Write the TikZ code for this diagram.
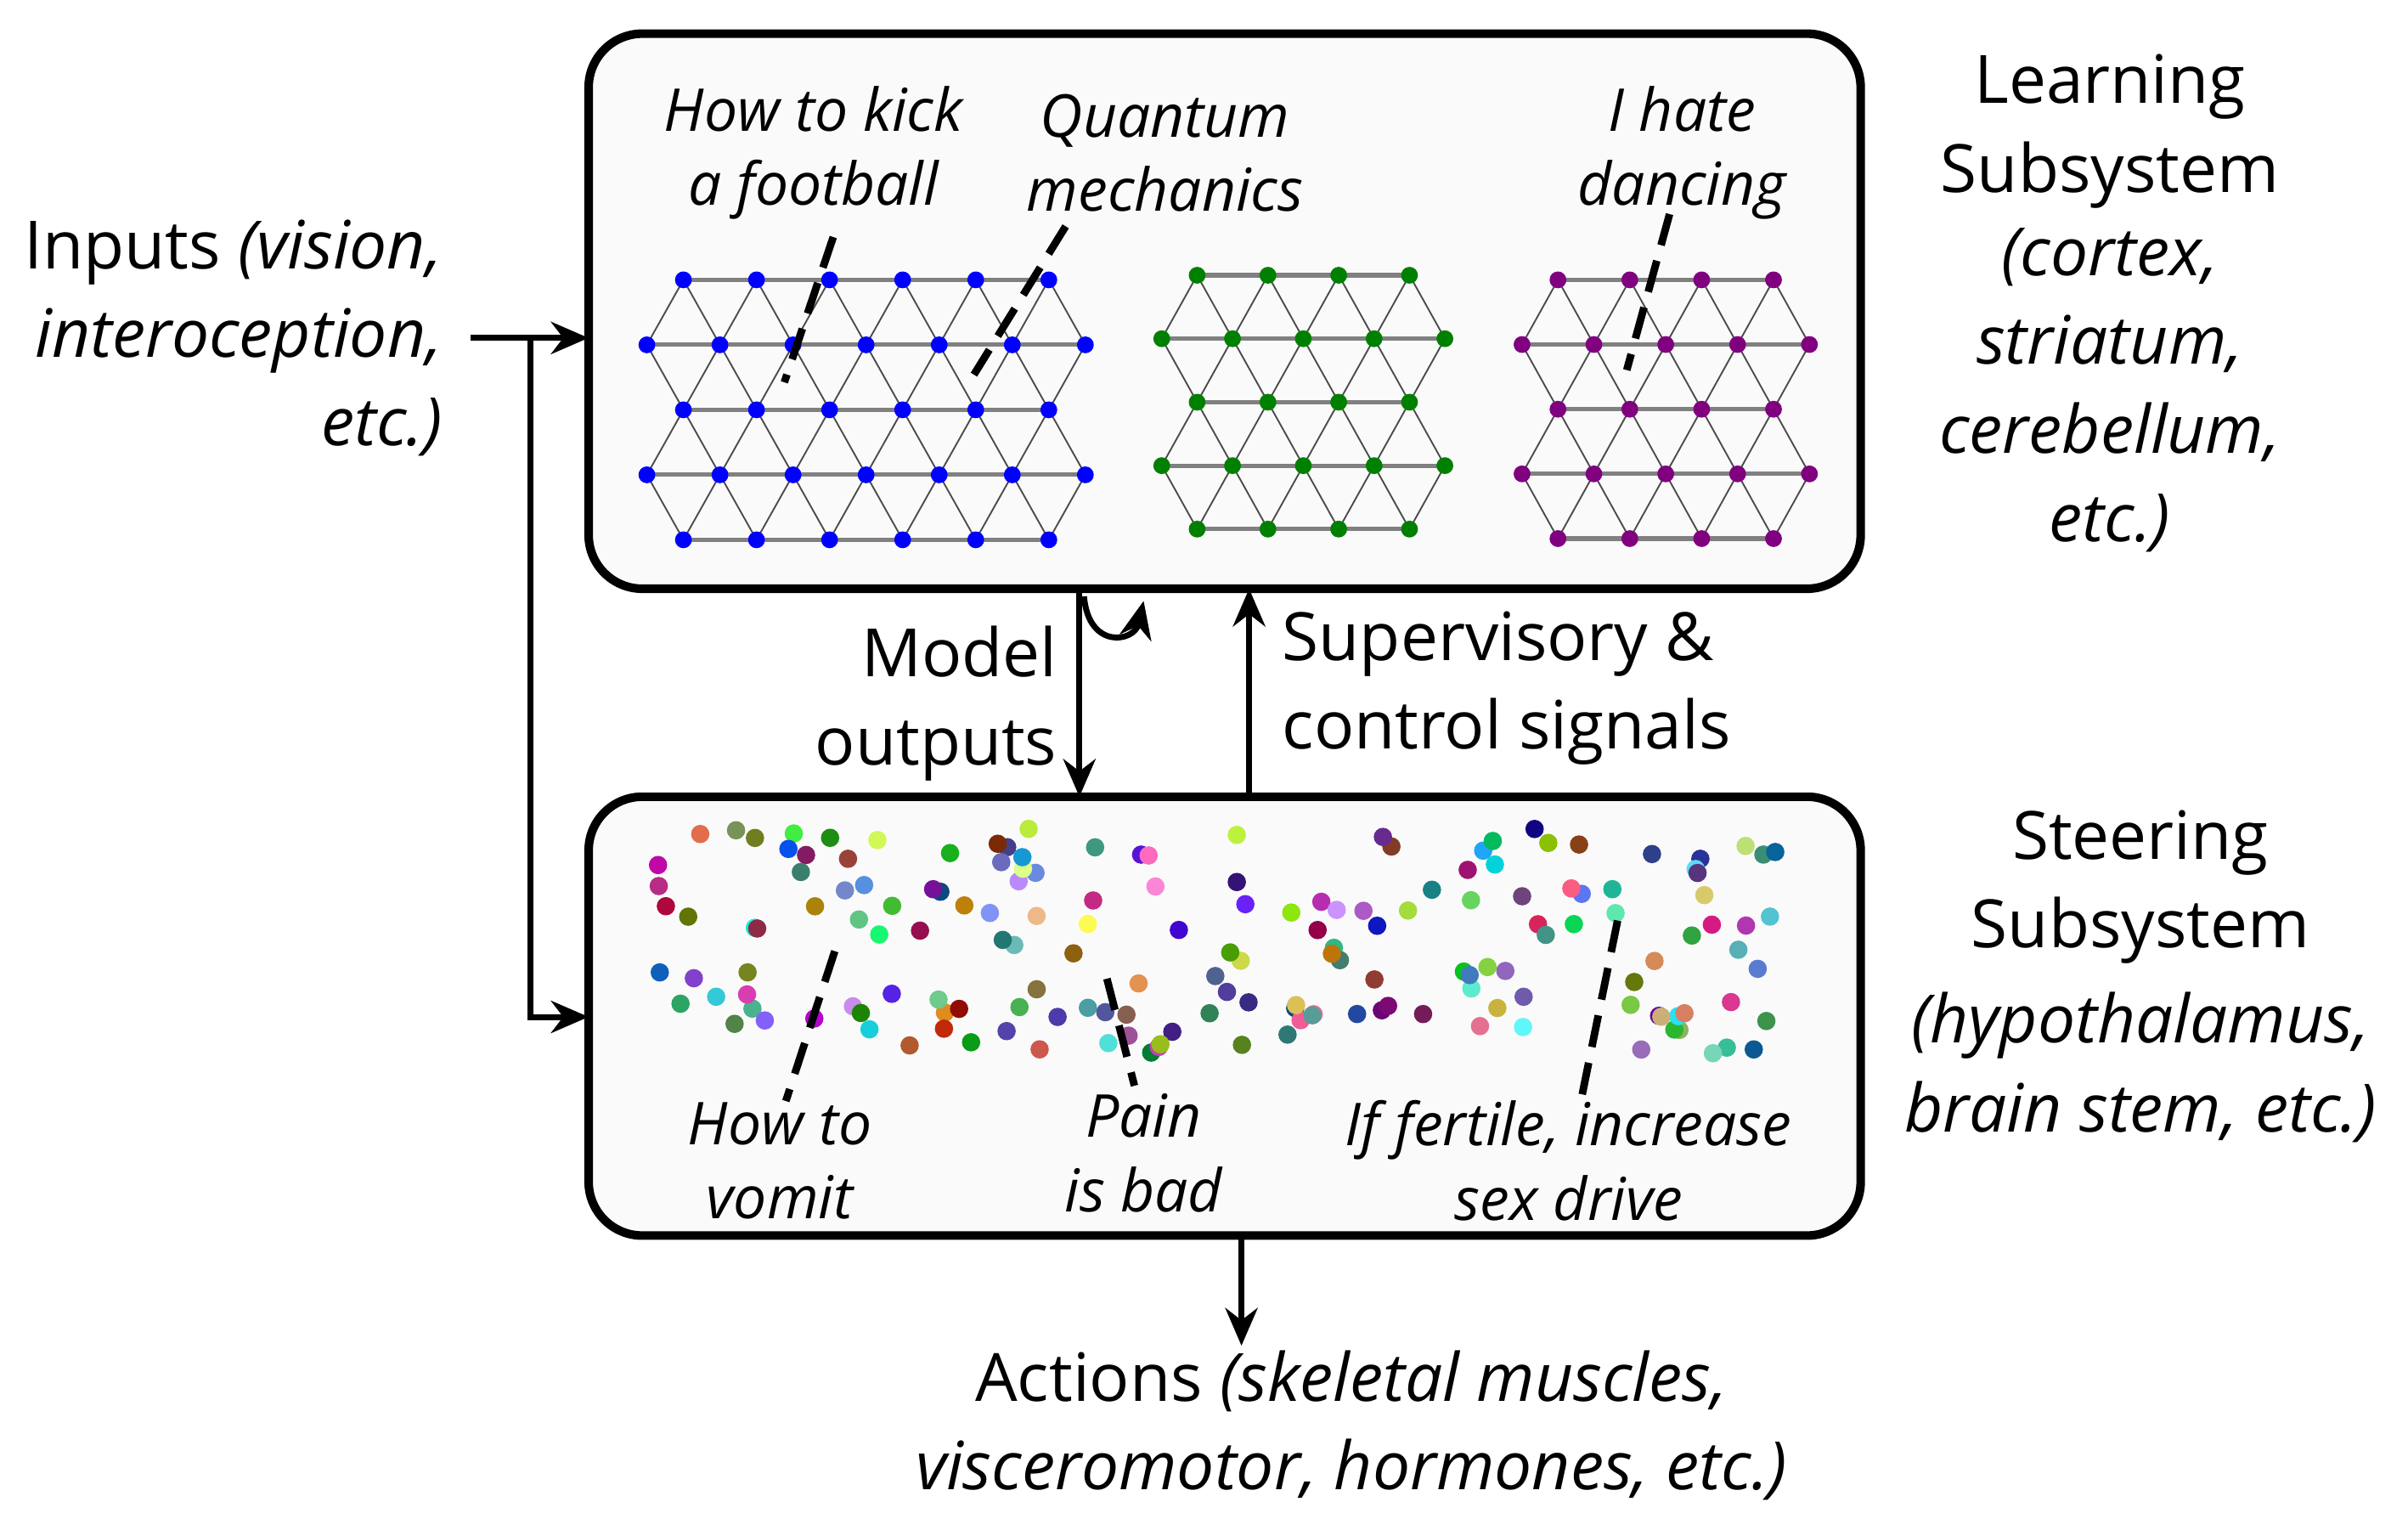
\documentclass[tikz,border=0pt]{standalone}
\usepackage{fontspec}
\setmainfont{Open Sans}
\usetikzlibrary{arrows.meta}
\newcommand\latt[6]{%
  \foreach \r in {0,...,4}{%
    \pgfmathsetmacro\yy{#4+\r*#5}%
    \ifodd\r
      \draw[gray,line width=0.8pt] ({#1-0.5*#2},\yy) -- ({#1+(#3+0.5)*#2},\yy);
    \else
      \draw[gray,line width=0.8pt] (#1,\yy) -- ({#1+#3*#2},\yy);
    \fi}%
  \foreach \r in {0,...,3}{%
    \pgfmathtruncatemacro\ev{mod(\r,2)==0 ? 1 : 0}%
    \pgfmathsetmacro\ys{\ev==1 ? #4+\r*#5 : #4+(\r+1)*#5}%
    \pgfmathsetmacro\yl{\ev==1 ? #4+(\r+1)*#5 : #4+\r*#5}%
    \foreach \i in {0,...,#3}{%
      \draw[black!70,line width=0.3pt] ({#1-0.5*#2+\i*#2},\yl) -- ({#1+\i*#2},\ys) -- ({#1+0.5*#2+\i*#2},\yl);}}%
  \foreach \r in {0,...,4}{%
    \pgfmathsetmacro\yy{#4+\r*#5}%
    \ifodd\r
      \foreach \i in {0,...,#3}{\fill[#6] ({#1-0.5*#2+\i*#2},\yy) circle (5.5);}
      \fill[#6] ({#1+(#3+0.5)*#2},\yy) circle (5.5);
    \else
      \foreach \i in {0,...,#3}{\fill[#6] ({#1+\i*#2},\yy) circle (5.5);}
    \fi}}
\definecolor{boxfill}{RGB}{250,250,250}
\definecolor{dgreen}{RGB}{0,128,0}
\definecolor{purp}{RGB}{128,0,128}
\begin{document}
\begin{tikzpicture}[x=0.1mm,y=-0.1mm,
  box/.style={draw,line width=1.6pt,rounded corners=10pt,fill=boxfill},
  big/.style={font=\fontsize{12.4}{16.5}\selectfont,align=center,inner sep=0},
  lab/.style={font=\fontsize{11}{13.8}\selectfont\itshape,align=center,inner sep=0},
  arr/.style={line width=1.1pt,-{Stealth[length=7pt,width=6pt]}},
  dsh/.style={line width=1.4pt,dash pattern=on 6pt off 3pt}]
\useasboundingbox (0,0) rectangle (1575,1000);
\path[fill=white] (0,0) rectangle (1575,1000);
% boxes
\draw[box] (385,22) rectangle (1217,385);
\draw[box] (385,521) rectangle (1217,808);
\coordinate (LB) at (385,221);
\coordinate (SB) at (385,665);
% lattices
\latt{447}{47.8}{5}{183}{42.5}{blue}
\latt{783}{46.3}{3}{180}{41.5}{dgreen}
\latt{1019}{47}{3}{183}{42.3}{purp}
% dots
\pgfmathsetseed{9137}
\foreach \k in {1,...,170}{%
  \pgfmathsetmacro\px{430+rnd*740}%
  \pgfmathsetmacro\py{540+rnd*150}%
  \pgfmathsetmacro\hh{rnd}%
  \pgfmathsetmacro\ss{0.4+0.6*rnd}%
  \pgfmathsetmacro\bb{0.45+0.55*rnd}%
  \definecolor{dc}{hsb}{\hh,\ss,\bb}%
  \fill[dc] (\px,\py) circle (6);}
% top labels
\node[lab] (kick) at (532,100) {How to kick\\a football};
\node[lab] (quant) at (762,100) {Quantum\\mechanics};
\node[lab] (hate) at (1100,100) {I hate\\dancing};
\draw[dsh] (545,155) -- (513,250);
\draw[dsh] (697,148) -- (637,245);
\draw[dsh] (1092,140) -- (1064,242);
% bottom labels
\node[lab] (vomit) at (510,759) {How to\\vomit};
\node[lab] (pain) at (748,754) {Pain\\is bad};
\node[lab] (fert) at (1026,759) {If fertile, increase\\sex drive};
\draw[dsh] (546,622) -- (514,720);
\draw[dsh] (724,640) -- (742,710);
\draw[dsh] (1058,602) -- (1034,720);
% right labels
\node[big] (learn) at (1380,86) {Learning\\Subsystem};
\node[big,font=\fontsize{12.4}{16.5}\selectfont\itshape] (lparen) at (1380,255) {(cortex,\\striatum,\\cerebellum,\\etc.)};
\node[big] (steer) at (1400,580) {Steering\\Subsystem};
\node[big,font=\fontsize{12.4}{16.5}\selectfont\itshape] (sparen) at (1400,698) {(hypothalamus,\\brain stem, etc.)};
% inputs
\node[big,align=right,anchor=east] (inp) at (290,221) {Inputs \textit{(vision,}\\\textit{interoception,}\\\textit{etc.)}};
\coordinate (i0) at (308,221);
\coordinate (ij) at (347,221);
\draw[arr] (i0) -- (LB);
\draw[arr] (ij) |- (SB);
% model outputs
\coordinate (m0) at (706,385);
\coordinate (m1) at (706,521);
\draw[arr] (m0) -- (m1);
\node[big,align=right,anchor=east] (mo) at (692,460) {Model\\outputs};
\coordinate (c0) at (709,390);
\coordinate (c1) at (748,393);
\draw[arr] (c0) .. controls (712,425) and (742,420) .. (c1);
% supervisory
\coordinate (s0) at (817,521);
\coordinate (s1) at (817,385);
\draw[arr] (s0) -- (s1);
\node[big,align=left,anchor=west] (sup) at (838,450) {Supervisory \&\\control signals};
% actions
\coordinate (a0) at (812,808);
\coordinate (a1) at (812,880);
\draw[arr] (a0) -- (a1);
\node[big] (act) at (884,932) {Actions \textit{(skeletal muscles,}\\\textit{visceromotor, hormones, etc.)}};
\end{tikzpicture}
\end{document}
